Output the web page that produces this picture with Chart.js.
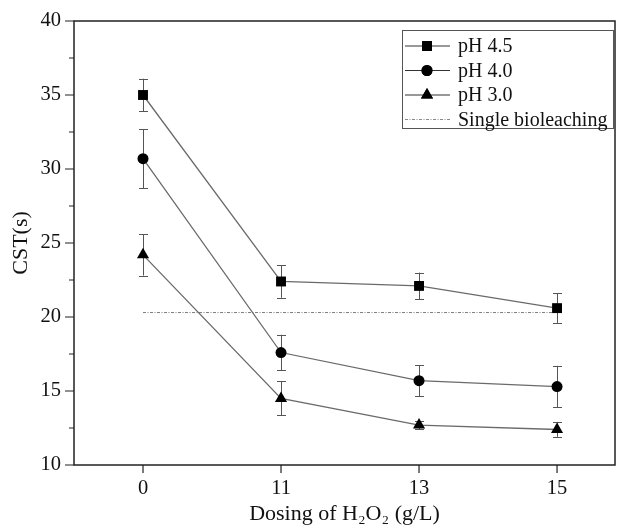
<!DOCTYPE html>
<html>
<head>
<meta charset="utf-8">
<script src="https://cdn.jsdelivr.net/npm/chart.js@4/dist/chart.umd.min.js"></script>
<style>
  html, body { margin: 0; padding: 0; background: #fff; overflow: hidden; }
  #wrap { width: 617px; height: 530px; position: relative; }
</style>
</head>
<body>
<div id="wrap"><canvas id="cst"></canvas></div>
<script>
// Data
const doses = ['0', '11', '13', '15'];
const ph45 = [35.0, 22.4, 22.1, 20.6];
const ph45Err = [1.1, 1.1, 0.9, 1.0];
const ph40 = [30.7, 17.6, 15.7, 15.3];
const ph40Err = [2.0, 1.2, 1.05, 1.4];
const ph30 = [24.2, 14.5, 12.7, 12.4];
const ph30Err = [1.4, 1.15, 0.3, 0.5];
const bioleaching = [20.3, 20.3, 20.3, 20.3];
const yMajorTicks = [10, 15, 20, 25, 30, 35, 40];
const yMinorTicks = [12.5, 17.5, 22.5, 27.5, 32.5, 37.5];

const FONT = "'Liberation Serif', 'Times New Roman', serif";
const LINE_COLOR = '#6a6a6a';
const AXIS_COLOR = '#222';

function toPoints(values) {
    return values.map((v, i) => ({ x: i, y: v }));
}

const series = [
    { label: 'pH 4.5', values: ph45, errors: ph45Err, style: 'rect', radius: 7 },
    { label: 'pH 4.0', values: ph40, errors: ph40Err, style: 'circle', radius: 5.5 },
    { label: 'pH 3.0', values: ph30, errors: ph30Err, style: 'triangle', radius: 7 }
];

// stretch the plot box out to the right edge like the original
const fullWidth = {
    id: 'fullWidth',
    afterLayout(chart) {
        const a = chart.chartArea;
        const x = chart.scales.x;
        a.right = chart.width - 2;
        a.width = a.right - a.left;
        x.right = a.right;
        x.width = x.right - x.left;
        x.configure();
    }
};

// error bars, drawn under the lines
const errorBars = {
    id: 'errorBars',
    beforeDatasetsDraw(chart) {
        const { ctx, scales: { x, y } } = chart;
        ctx.save();
        ctx.strokeStyle = '#555';
        ctx.lineWidth = 1;
        series.forEach(s => {
            s.values.forEach((v, i) => {
                const px = Math.round(x.getPixelForValue(i)) + 0.5;
                const top = y.getPixelForValue(v + s.errors[i]);
                const bot = y.getPixelForValue(v - s.errors[i]);
                ctx.beginPath();
                ctx.moveTo(px, top); ctx.lineTo(px, bot);
                ctx.moveTo(px - 4.5, Math.round(top) + 0.5); ctx.lineTo(px + 4.5, Math.round(top) + 0.5);
                ctx.moveTo(px - 4.5, Math.round(bot) + 0.5); ctx.lineTo(px + 4.5, Math.round(bot) + 0.5);
                ctx.stroke();
            });
        });
        ctx.restore();
    }
};

// frame, ticks and legend box
const frame = {
    id: 'frame',
    afterDraw(chart) {
        const { ctx, chartArea: a, scales: { x, y } } = chart;
        ctx.save();
        ctx.strokeStyle = AXIS_COLOR;
        ctx.lineWidth = 1.5;
        ctx.strokeRect(a.left, a.top, a.right - a.left, a.bottom - a.top);

        ctx.lineWidth = 1.2;
        ctx.beginPath();
        yMajorTicks.forEach(t => {
            const py = y.getPixelForValue(t);
            ctx.moveTo(a.left - 9, py); ctx.lineTo(a.left, py);
        });
        yMinorTicks.forEach(t => {
            const py = y.getPixelForValue(t);
            ctx.moveTo(a.left - 5, py); ctx.lineTo(a.left, py);
        });
        doses.forEach((d, i) => {
            const px = x.getPixelForValue(i);
            ctx.moveTo(px, a.bottom); ctx.lineTo(px, a.bottom + 8);
        });
        ctx.stroke();

        // legend
        const bx = a.right - 213, by = a.top + 9, bw = 211, bh = 98;
        ctx.strokeStyle = '#555';
        ctx.lineWidth = 1;
        ctx.strokeRect(bx + 0.5, by + 0.5, bw, bh);
        ctx.font = '20px ' + FONT;
        ctx.textBaseline = 'middle';
        ctx.fillStyle = '#111';
        const rows = series.map(s => ({ label: s.label, style: s.style, radius: s.radius }));
        rows.push({ label: 'Single bioleaching', style: null });
        rows.forEach((r, k) => {
            const cy = by + 16 + k * 24.5;
            ctx.save();
            ctx.strokeStyle = r.style ? '#333' : '#888';
            ctx.lineWidth = 1;
            if (!r.style) ctx.setLineDash([3, 1.5, 1, 1.5]);
            ctx.beginPath();
            ctx.moveTo(bx + 3, cy); ctx.lineTo(bx + 48, cy);
            ctx.stroke();
            ctx.restore();
            if (r.style) {
                Chart.helpers.drawPoint(ctx, { pointStyle: r.style, radius: r.radius, borderWidth: 0 }, bx + 25, cy);
                ctx.fillStyle = '#000';
                ctx.fill();
            }
            ctx.fillStyle = '#111';
            ctx.fillText(r.label, bx + 56, cy + 1);
        });
        ctx.restore();
    }
};

const datasets = series.map(s => ({
    label: s.label,
    data: toPoints(s.values),
    borderColor: LINE_COLOR,
    borderWidth: 1.3,
    pointStyle: s.style,
    pointRadius: s.radius,
    pointBackgroundColor: '#000',
    pointBorderColor: '#000',
    pointBorderWidth: 0,
    tension: 0
}));
datasets.push({
    label: 'Single bioleaching',
    data: toPoints(bioleaching),
    borderColor: '#7a7a7a',
    borderWidth: 1,
    borderDash: [3, 1.5, 1, 1.5],
    pointRadius: 0,
    tension: 0
});

new Chart(document.getElementById('cst'), {
    type: 'line',
    data: { datasets },
    options: {
        responsive: true,
        maintainAspectRatio: false,
        animation: false,
        events: [],
        layout: { padding: { top: 21, right: 2, left: 0, bottom: 0 } },
        plugins: { legend: { display: false }, tooltip: { enabled: false } },
        scales: {
            x: {
                type: 'linear',
                min: -0.5,
                max: 3.42,
                afterBuildTicks: scale => { scale.ticks = doses.map((d, i) => ({ value: i })); },
                afterFit: scale => {
                    scale.height = 65;
                    scale.paddingLeft = 0;
                    scale.paddingRight = 0;
                },
                grid: { display: false, drawTicks: false },
                border: { display: false },
                ticks: {
                    color: '#111',
                    padding: 11,
                    maxRotation: 0,
                    font: { family: FONT, size: 20.5 },
                    callback: v => doses[v]
                },
                title: {
                    display: true,
                    text: 'Dosing of H\u2082O\u2082 (g/L)',
                    color: '#111',
                    font: { family: FONT, size: 22 },
                    padding: { top: 0, bottom: 3 }
                }
            },
            y: {
                min: 10,
                max: 40,
                afterBuildTicks: scale => { scale.ticks = yMajorTicks.map(v => ({ value: v })); },
                afterFit: scale => {
                    scale.width = 74;
                    scale.paddingTop = 0;
                    scale.paddingBottom = 0;
                },
                grid: { display: false, drawTicks: false },
                border: { display: false },
                ticks: {
                    color: '#111',
                    padding: 13,
                    font: { family: FONT, size: 20.5 }
                },
                title: {
                    display: true,
                    text: 'CST(s)',
                    color: '#111',
                    font: { family: FONT, size: 22 },
                    padding: { top: 8, bottom: 0 }
                }
            }
        }
    },
    plugins: [fullWidth, errorBars, frame]
});
</script>
</body>
</html>
